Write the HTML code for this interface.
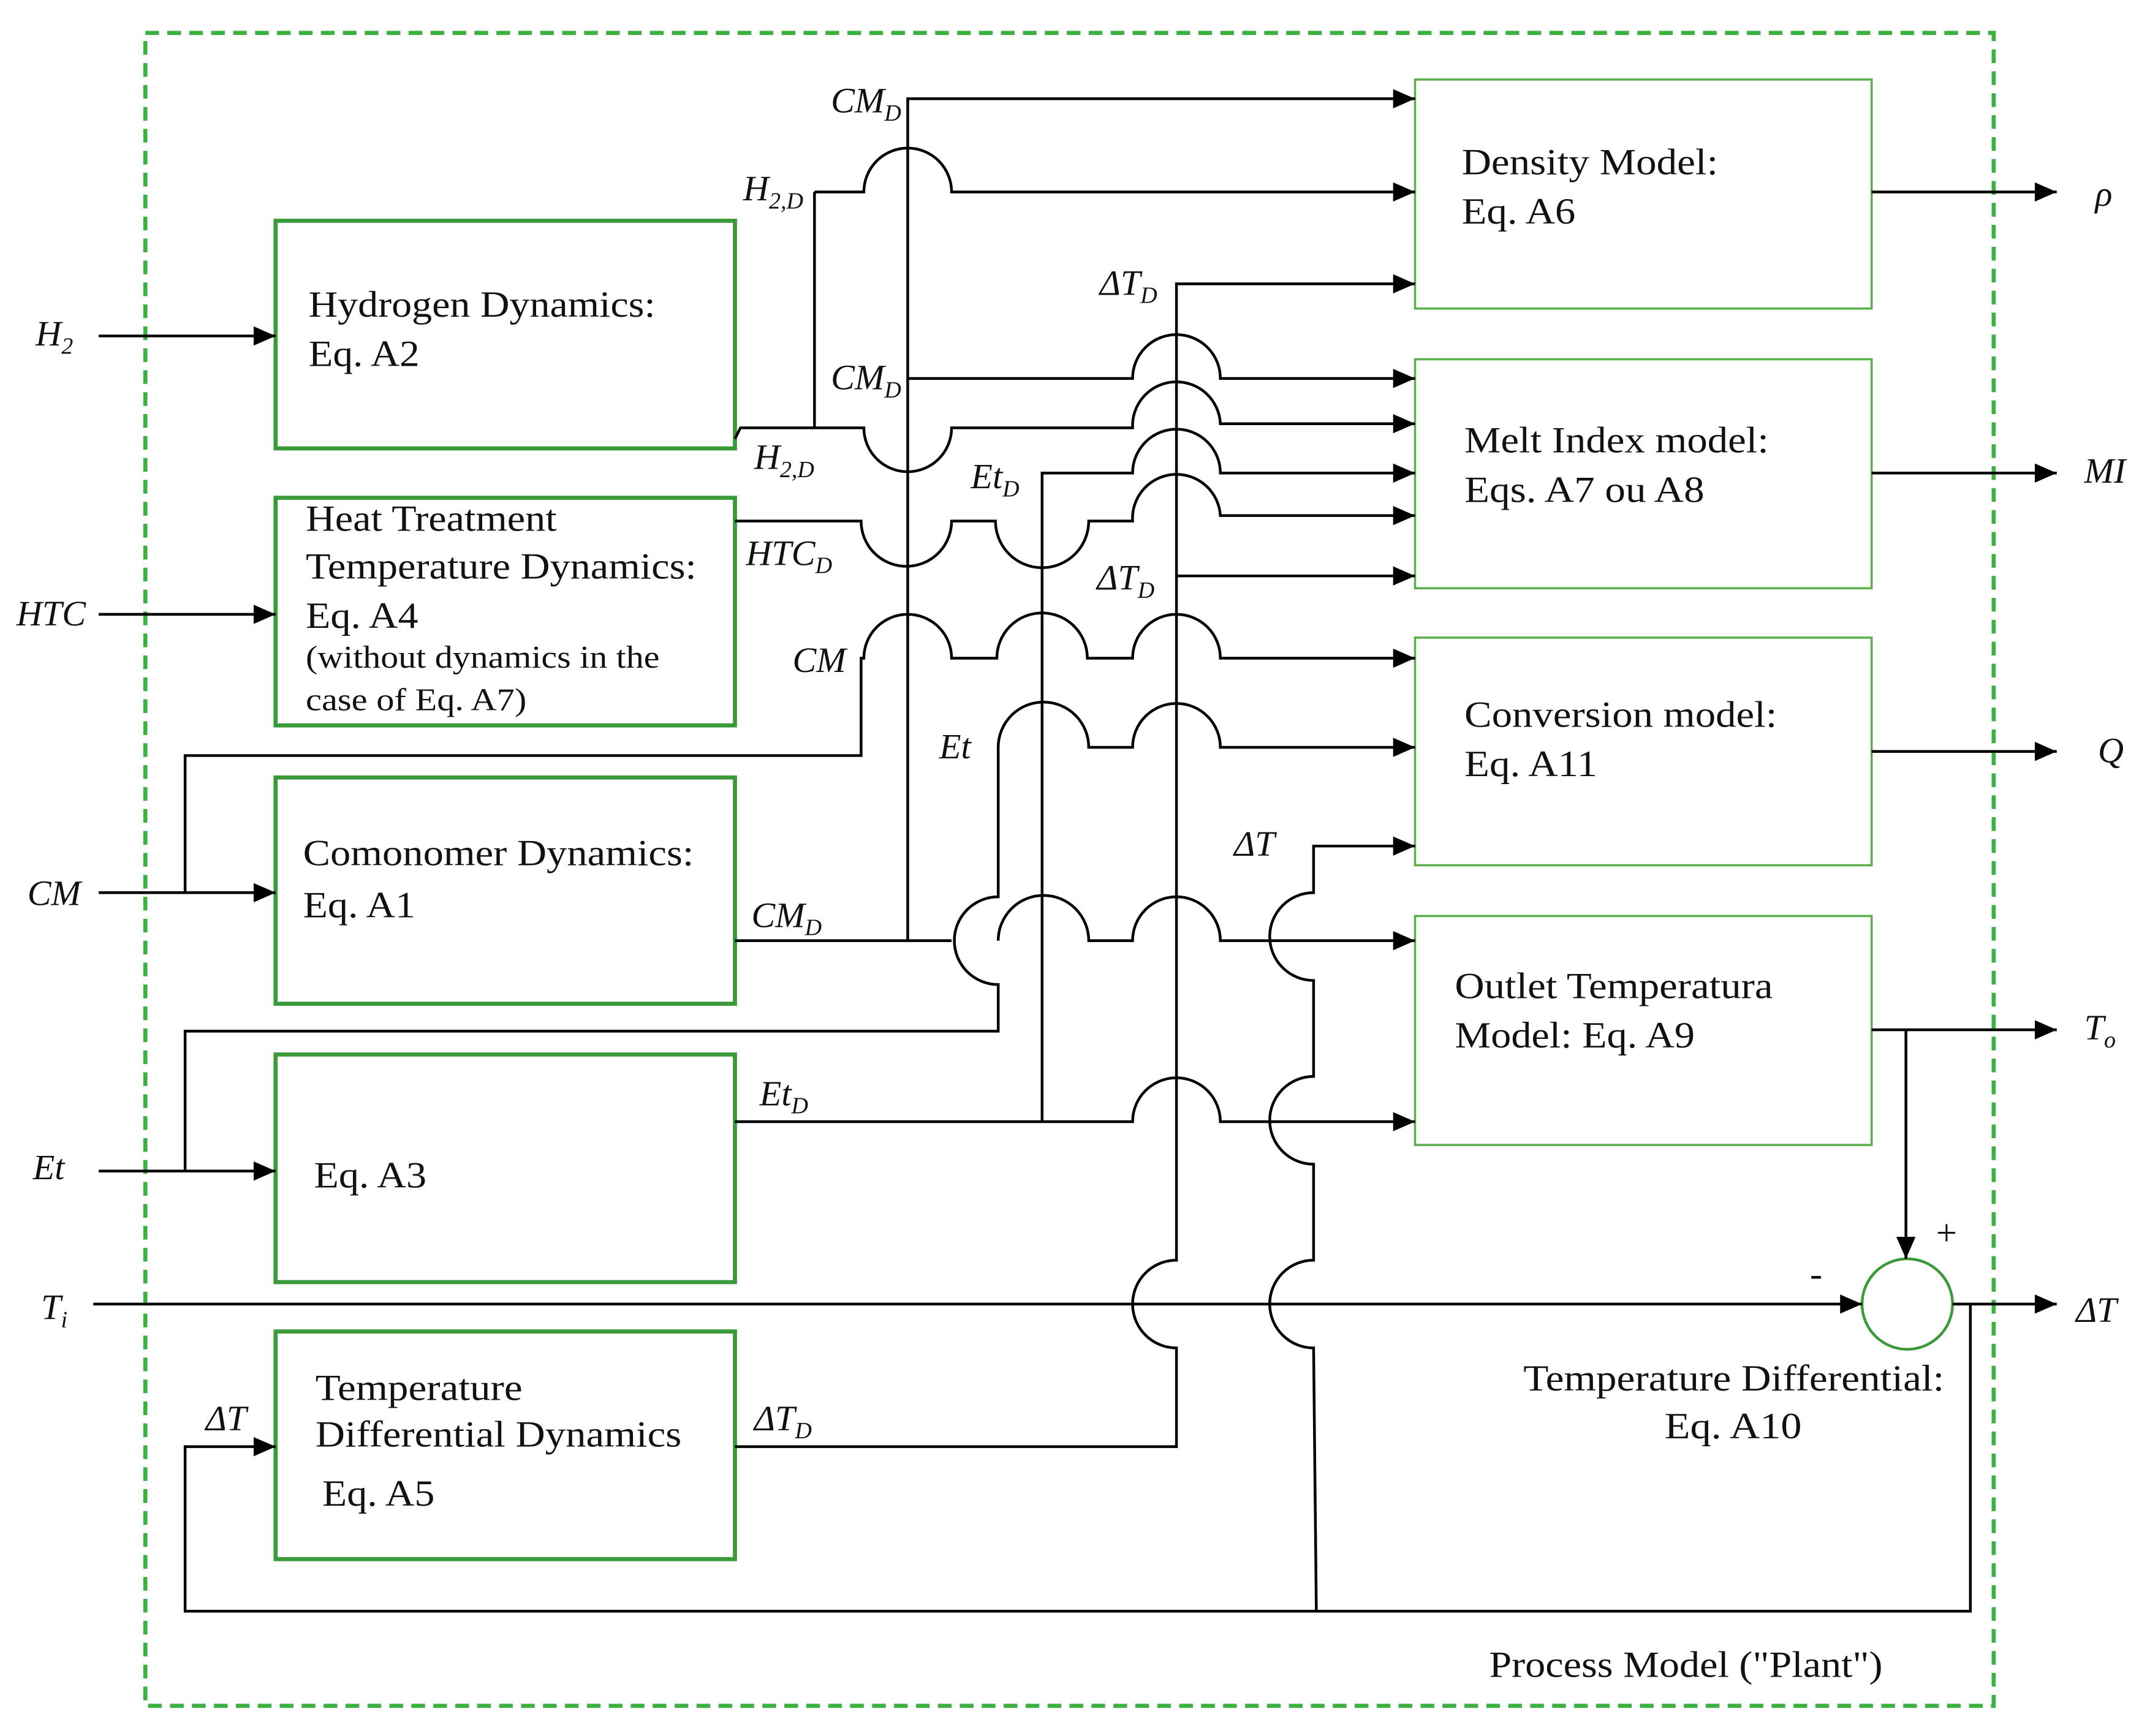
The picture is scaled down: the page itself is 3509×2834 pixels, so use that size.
<!DOCTYPE html>
<html><head><meta charset="utf-8">
<style>
html,body{margin:0;padding:0;background:#fff;}
svg{display:block;}
text{font-family:"Liberation Serif",serif;fill:#111;}
.i{font-style:italic;font-size:26px;}
.b{font-size:27px;}
</style></head>
<body>
<svg width="3509" height="2834" viewBox="0 0 1568 1266" preserveAspectRatio="none" xmlns="http://www.w3.org/2000/svg">
<defs>
<marker id="A" markerWidth="16" markerHeight="14" refX="16" refY="7" orient="auto" markerUnits="userSpaceOnUse">
<path d="M0,0 L16,7 L0,14 z" fill="#000"/>
</marker>
</defs>
<rect width="1568" height="1266" fill="#fff"/>
<rect x="106" y="24" width="1348" height="1220" fill="none" stroke="#3cb040" stroke-width="3" stroke-dasharray="10,6"/>

<g fill="none" stroke="#3a9a3a" stroke-width="3">
<rect x="201" y="161" width="335" height="166"/>
<rect x="201" y="363" width="335" height="166"/>
<rect x="201" y="567" width="335" height="165"/>
<rect x="201" y="769" width="335" height="166"/>
<rect x="201" y="971" width="335" height="166"/>
</g>
<g fill="none" stroke="#5cb04c" stroke-width="1.6">
<rect x="1032" y="58" width="333" height="167"/>
<rect x="1032" y="262" width="333" height="167"/>
<rect x="1032" y="465" width="333" height="166"/>
<rect x="1032" y="668" width="333" height="167"/>
</g>
<circle cx="1391" cy="951" r="33" fill="none" stroke="#3a9a3a" stroke-width="2"/>

<g fill="none" stroke="#000" stroke-width="2">
<path d="M72 245 H201" marker-end="url(#A)"/>
<path d="M72 448 H201" marker-end="url(#A)"/>
<path d="M72 651 H201" marker-end="url(#A)"/>
<path d="M72 854 H201" marker-end="url(#A)"/>
<path d="M68 951 H1358" marker-end="url(#A)"/>
<path d="M135 651 V551 H628 V480 L630 480 A32 32 0 0 1 694 480 L727 480 A32 32 0 0 1 793 480 L826 480 A32 32 0 0 1 890 480 H1032" marker-end="url(#A)"/>
<path d="M135 854 V752 H728 V718 A32 32 0 0 1 728 654 V545 A33 33 0 0 1 794 545 L826 545 A32 32 0 0 1 890 545 H1032" marker-end="url(#A)"/>
<path d="M536 686 H694 M728 686 A32 32 0 0 1 794 686 L826 686 A32 32 0 0 1 890 686 H1032" marker-end="url(#A)"/>
<path d="M662 686 V72 H1032" marker-end="url(#A)"/>
<path d="M662 276 H826 A32 32 0 0 1 890 276 H1032" marker-end="url(#A)"/>
<path d="M594 140 H630 A32 32 0 0 1 694 140 H1032" marker-end="url(#A)"/>
<path d="M594 140 V312 H630 A32 32 0 0 0 694 312 L826 312 A32 32 0 0 1 890 309 H1032" marker-end="url(#A)"/>
<path d="M536 320 L540 312 H594"/>
<path d="M536 380 H628 A33 33 0 0 0 694 380 L726 380 A34 34 0 0 0 794 380 L826 380 A32 32 0 0 1 890 376 H1032" marker-end="url(#A)"/>
<path d="M536 818 H826 A32 32 0 0 1 890 818 H1032" marker-end="url(#A)"/>
<path d="M760 818 V345 H826 A32 32 0 0 1 890 345 H1032" marker-end="url(#A)"/>
<path d="M536 1055 H858 V983 A32 32 0 0 1 858 919 V207 H1032" marker-end="url(#A)"/>
<path d="M858 420 H1032" marker-end="url(#A)"/>
<path d="M1437 951 V1175 H135 V1055 H201" marker-end="url(#A)"/>
<path d="M960 1175 L958 983 A32 32 0 0 1 958 919 V849 A32 32 0 0 1 958 785 V715 A32 32 0 0 1 958 651 V617 H1032" marker-end="url(#A)"/>
<path d="M1365 140 H1500" marker-end="url(#A)"/>
<path d="M1365 345 H1500" marker-end="url(#A)"/>
<path d="M1365 548 H1500" marker-end="url(#A)"/>
<path d="M1365 751 H1500" marker-end="url(#A)"/>
<path d="M1390 751 V918" marker-end="url(#A)"/>
<path d="M1424 951 H1500" marker-end="url(#A)"/>
</g>

<text class="b" x="225" y="231" textLength="253" lengthAdjust="spacingAndGlyphs">Hydrogen Dynamics:</text>
<text class="b" x="225" y="267" textLength="81" lengthAdjust="spacingAndGlyphs">Eq. A2</text>
<text class="b" x="223" y="387" textLength="183" lengthAdjust="spacingAndGlyphs">Heat Treatment</text>
<text class="b" x="223" y="422" textLength="285" lengthAdjust="spacingAndGlyphs">Temperature Dynamics:</text>
<text class="b" x="223" y="458" textLength="82" lengthAdjust="spacingAndGlyphs">Eq. A4</text>
<text x="223" y="487" style="font-size:23px" textLength="258" lengthAdjust="spacingAndGlyphs">(without dynamics in the</text>
<text x="223" y="518" style="font-size:23px" textLength="161" lengthAdjust="spacingAndGlyphs">case of Eq. A7)</text>
<text class="b" x="221" y="631" textLength="285" lengthAdjust="spacingAndGlyphs">Comonomer Dynamics:</text>
<text class="b" x="221" y="669" textLength="82" lengthAdjust="spacingAndGlyphs">Eq. A1</text>
<text class="b" x="229" y="866" textLength="82" lengthAdjust="spacingAndGlyphs">Eq. A3</text>
<text class="b" x="230" y="1021" textLength="151" lengthAdjust="spacingAndGlyphs">Temperature</text>
<text class="b" x="230" y="1055" textLength="267" lengthAdjust="spacingAndGlyphs">Differential Dynamics</text>
<text class="b" x="235" y="1098" textLength="82" lengthAdjust="spacingAndGlyphs">Eq. A5</text>
<text class="b" x="1066" y="127" textLength="187" lengthAdjust="spacingAndGlyphs">Density Model:</text>
<text class="b" x="1066" y="163" textLength="83" lengthAdjust="spacingAndGlyphs">Eq. A6</text>
<text class="b" x="1068" y="330" textLength="222" lengthAdjust="spacingAndGlyphs">Melt Index model:</text>
<text class="b" x="1068" y="366" textLength="175" lengthAdjust="spacingAndGlyphs">Eqs. A7 ou A8</text>
<text class="b" x="1068" y="530" textLength="228" lengthAdjust="spacingAndGlyphs">Conversion model:</text>
<text class="b" x="1068" y="566" textLength="97" lengthAdjust="spacingAndGlyphs">Eq. A11</text>
<text class="b" x="1061" y="728" textLength="232" lengthAdjust="spacingAndGlyphs">Outlet Temperatura</text>
<text class="b" x="1061" y="764" textLength="175" lengthAdjust="spacingAndGlyphs">Model: Eq. A9</text>
<text class="b" x="1111" y="1014" textLength="307" lengthAdjust="spacingAndGlyphs">Temperature Differential:</text>
<text class="b" x="1214" y="1049" textLength="100" lengthAdjust="spacingAndGlyphs">Eq. A10</text>
<text class="b" x="1086" y="1223" textLength="287" lengthAdjust="spacingAndGlyphs">Process Model ("Plant")</text>
<text class="b" x="1412" y="908">+</text>
<text class="b" x="1320" y="938">-</text>

<text class="i" x="26" y="252">H<tspan font-size="17" dy="6">2</tspan></text>
<text class="i" x="12" y="456">HTC</text>
<text class="i" x="20" y="660">CM</text>
<text class="i" x="24" y="860">Et</text>
<text class="i" x="30" y="962">T<tspan font-size="17" dy="6">i</tspan></text>
<text class="i" x="150" y="1043">ΔT</text>
<text class="i" x="606" y="82">CM<tspan font-size="17" dy="6">D</tspan></text>
<text class="i" x="542" y="146">H<tspan font-size="17" dy="6">2,D</tspan></text>
<text class="i" x="802" y="215">ΔT<tspan font-size="17" dy="6">D</tspan></text>
<text class="i" x="606" y="284">CM<tspan font-size="17" dy="6">D</tspan></text>
<text class="i" x="550" y="342">H<tspan font-size="17" dy="6">2,D</tspan></text>
<text class="i" x="708" y="356">Et<tspan font-size="17" dy="6">D</tspan></text>
<text class="i" x="544" y="412">HTC<tspan font-size="17" dy="6">D</tspan></text>
<text class="i" x="800" y="430">ΔT<tspan font-size="17" dy="6">D</tspan></text>
<text class="i" x="578" y="490">CM</text>
<text class="i" x="685" y="553">Et</text>
<text class="i" x="900" y="624">ΔT</text>
<text class="i" x="548" y="676">CM<tspan font-size="17" dy="6">D</tspan></text>
<text class="i" x="554" y="806">Et<tspan font-size="17" dy="6">D</tspan></text>
<text class="i" x="550" y="1043">ΔT<tspan font-size="17" dy="6">D</tspan></text>
<text class="i" x="1528" y="150">ρ</text>
<text class="i" x="1520" y="352">MI</text>
<text class="i" x="1530" y="556">Q</text>
<text class="i" x="1520" y="758">T<tspan font-size="17" dy="6">o</tspan></text>
<text class="i" x="1514" y="964">ΔT</text>
</svg>
</body></html>
